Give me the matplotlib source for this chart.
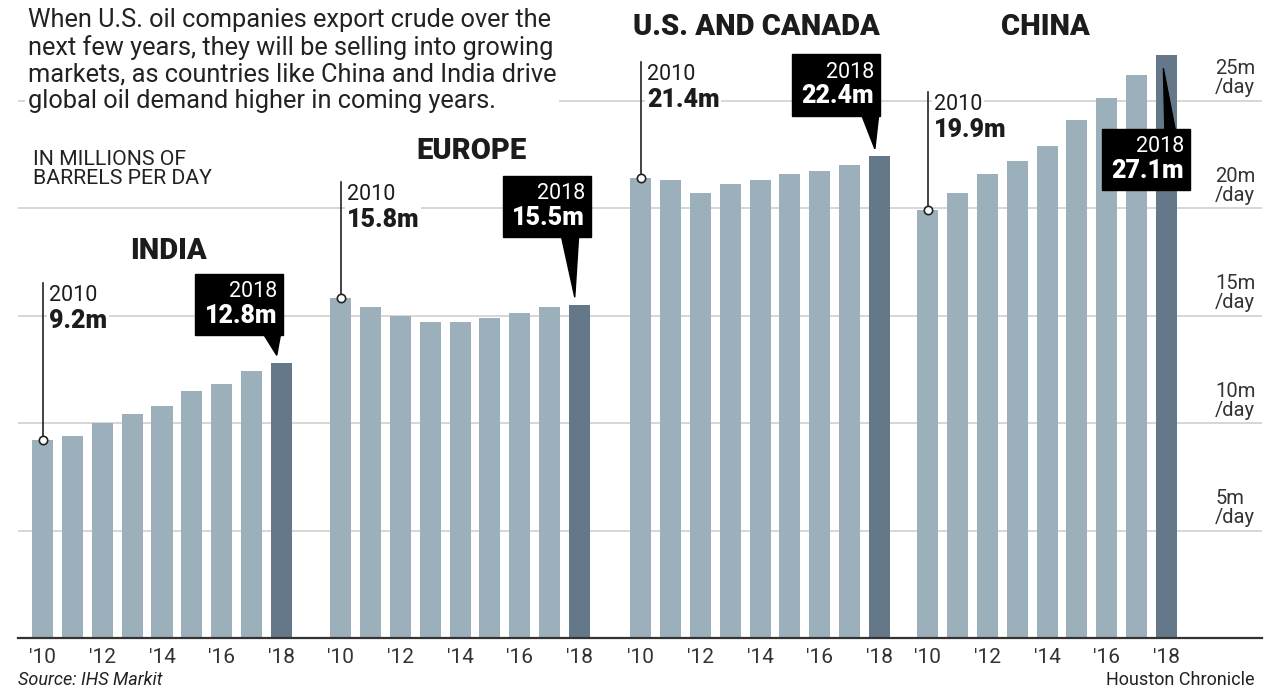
import numpy as np
import matplotlib.pyplot as plt
from matplotlib.patches import Rectangle, Polygon

plt.rcParams['font.family'] = ['Roboto', 'DejaVu Sans']

# data (millions of barrels per day), 2010-2018
years = list(range(2010, 2019))
regions = ["INDIA", "EUROPE", "U.S. AND CANADA", "CHINA"]
india = [9.2, 9.4, 10.0, 10.4, 10.8, 11.5, 11.8, 12.4, 12.8]
europe = [15.8, 15.4, 15.0, 14.7, 14.7, 14.9, 15.1, 15.4, 15.5]
us_canada = [21.4, 21.3, 20.7, 21.1, 21.3, 21.6, 21.7, 22.0, 22.4]
china = [19.9, 20.7, 21.6, 22.2, 22.9, 24.1, 25.1, 26.2, 27.1]
series = [india, europe, us_canada, china]
tick_labels = ["'10", "'12", "'14", "'16", "'18"]
yticks = [5, 10, 15, 20, 25]

# layout
W, H = 1267, 694
group_start = [0, 10, 20.07, 29.7]
bar_w = 0.705
light = '#9cb0bc'
dark = '#65788a'
ink = '#1c1c1c'

label_pos = [(4.23, 18.0), (14.37, 22.65), (23.96, 28.4), (33.66, 28.4)]
first_line_top = [16.5, 21.2, 26.8, 25.4]
box_bottom = [14.1, 18.65, 24.3, 20.84]
box_right = [0.06, 0.39, 0.02, 0.8]
box_w, box_h = 2.95, 2.85

fig = plt.figure(figsize=(W / 100, H / 100), dpi=100)
ax = fig.add_axes([18 / W, 56 / H, 1244 / W, 638 / H])
ax.set_xlim(-0.832, 40.91)
ax.set_ylim(0, 638 / 21.5)

# bars
for g, vals in enumerate(series):
    x = group_start[g] + np.arange(len(years))
    colors = [light] * (len(years) - 1) + [dark]
    ax.bar(x, vals, width=bar_w, color=colors, zorder=2)

# grid / axes
ax.set_yticks(yticks)
ax.grid(axis='y', color='#d0d0d0', lw=1.2, zorder=0)
ax.set_axisbelow(True)
for s in ['left', 'right', 'top']:
    ax.spines[s].set_visible(False)
ax.spines['bottom'].set_color('#333333')
ax.spines['bottom'].set_linewidth(1.6)
xt = []
xl = []
for g in range(4):
    for k, lab in enumerate(tick_labels):
        xt.append(group_start[g] + 2 * k)
        xl.append(lab)
ax.set_xticks(xt)
ax.set_xticklabels(xl)
ax.tick_params(axis='x', length=0, pad=7, labelsize=15, labelcolor='#333333')
ax.tick_params(axis='y', length=0, labelleft=False)

for v in yticks:
    ax.text(39.34, v + 0.15, f"{v}m\n/day", ha='left', va='bottom',
            fontsize=14.5, linespacing=1.0, color='#333333')

# region labels
for g, name in enumerate(regions):
    ax.text(label_pos[g][0], label_pos[g][1], name, ha='center', va='center',
            fontsize=21, fontweight='heavy', color=ink, zorder=4)

# 2010 / 2018 callouts
for g, vals in enumerate(series):
    x0 = group_start[g]
    top = first_line_top[g]
    ax.plot([x0, x0], [vals[0], top], color='#222222', lw=1.2, zorder=5)
    ax.plot(x0, vals[0], 'o', ms=6, mfc='white', mec='#222222', mew=1.2, zorder=6)
    ax.text(x0 + 0.2, top - 0.1, str(years[0]), ha='left', va='top',
            fontsize=15.5, color=ink, zorder=4,
            bbox=dict(facecolor='white', edgecolor='none', pad=1.5))
    ax.text(x0 + 0.2, top - 1.2, f"{vals[0]}m", ha='left', va='top',
            fontsize=18, fontweight='heavy', color=ink, zorder=4,
            bbox=dict(facecolor='white', edgecolor='none', pad=1.5))

    xc = x0 + len(years) - 1
    right = xc + box_right[g]
    b = box_bottom[g]
    t = b + box_h
    ax.add_patch(Rectangle((right - box_w, b), box_w, box_h, color='black', zorder=7))
    if vals[-1] < b:
        tail = [(xc - 0.6, b + 0.05), (xc - 0.02, b + 0.05), (xc - 0.15, vals[-1] + 0.35)]
    else:
        tail = [(xc - 0.05, t - 0.05), (xc + 0.3, t - 0.05), (xc - 0.1, vals[-1] - 0.6)]
    ax.add_patch(Polygon(tail, closed=True, color='black', zorder=7))
    ax.text(right - 0.2, t - 0.35, str(years[-1]), ha='right', va='top',
            fontsize=15.5, color='white', zorder=8)
    ax.text(right - 0.2, t - 1.4, f"{vals[-1]}m", ha='right', va='top',
            fontsize=18, fontweight='heavy', color='white', zorder=8)

# texts
fig.text(28 / W, 1 - 8 / H,
         "When U.S. oil companies export crude over the\n"
         "next few years, they will be selling into growing\n"
         "markets, as countries like China and India drive\n"
         "global oil demand higher in coming years.",
         ha='left', va='top', fontsize=18.3, linespacing=1.14, color='#222222',
         bbox=dict(facecolor='white', edgecolor='none', pad=2), zorder=5)
fig.text(33 / W, 1 - 150 / H, "IN MILLIONS OF\nBARRELS PER DAY",
         ha='left', va='top', fontsize=15.3, linespacing=1.0, color='#222222')
fig.text(18 / W, 1 - 671 / H, "Source: IHS Markit", ha='left', va='top',
         fontsize=13, style='italic', color='#222222')
fig.text(1255 / W, 1 - 671 / H, "Houston Chronicle", ha='right', va='top',
         fontsize=13, color='#222222')

plt.savefig('out.png', dpi=100)
